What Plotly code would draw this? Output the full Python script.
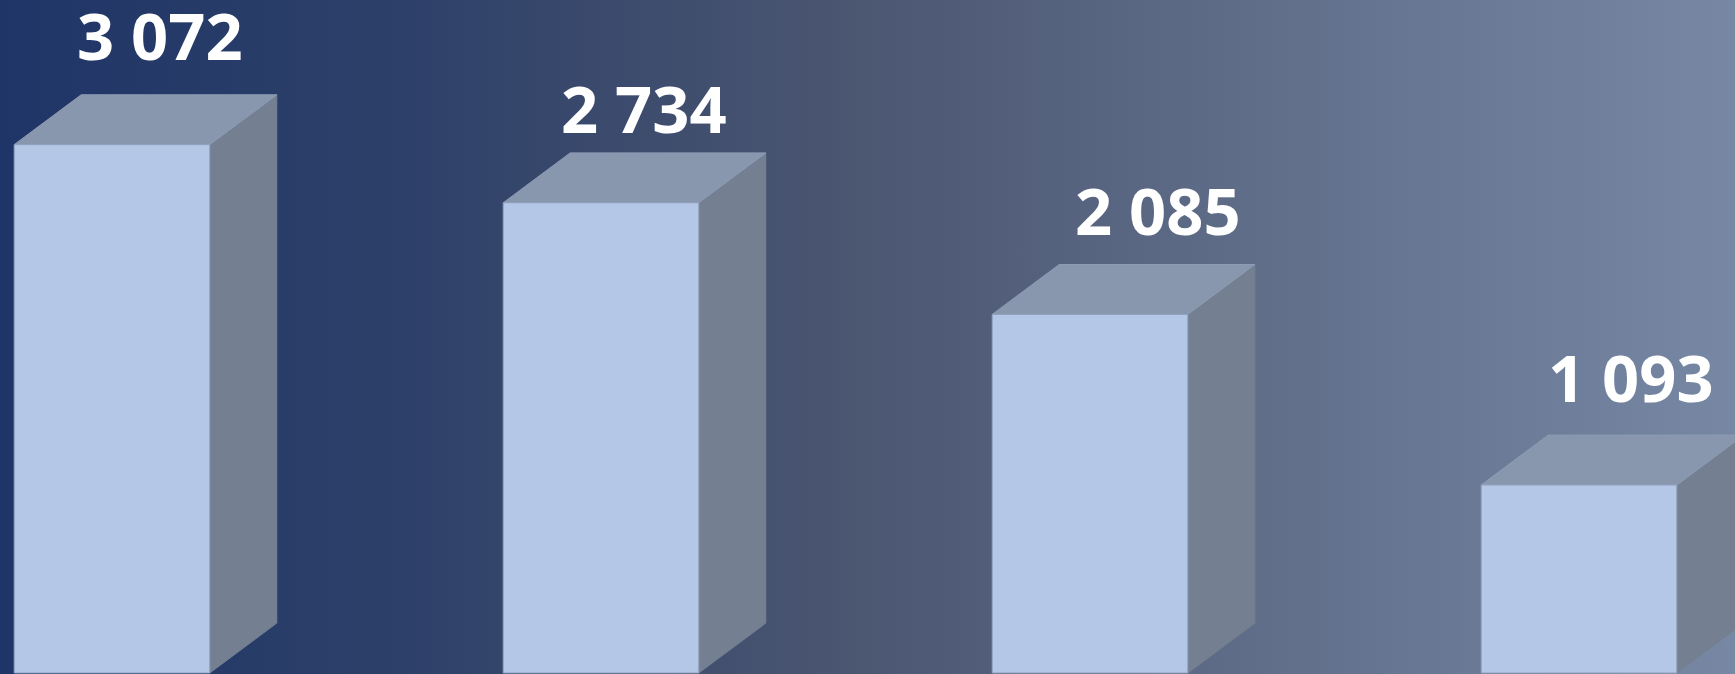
import plotly.graph_objects as go

# ---- data ----
positions = [0, 1, 2, 3]
values = [3072, 2734, 2085, 1093]
labels = [f"{v:,}".replace(",", " ") for v in values]

# ---- style / geometry ----
bar_w = 0.40          # front face width (category units)
depth_x = 0.137       # 3-D depth offset in x (category units)
depth_y = 290         # 3-D depth offset in y (value units)
x_range = [-0.229, 3.319]
y_range = [-5.8, 3913]
label_xshift = [-4, -9, 16, 0]     # px nudges of the value labels
label_yshift = [14, -1, 9, 12]

front_col = "#B4C7E7"
top_col = "#8897AE"
side_col = "#748092"
edge_col = "#8FA0BE"

fig = go.Figure()

# gradient background
fig.add_trace(go.Scatter(
    x=[x_range[0], x_range[1], x_range[1], x_range[0], x_range[0]],
    y=[y_range[0], y_range[0], y_range[1], y_range[1], y_range[0]],
    fill="toself", mode="lines", line=dict(width=0),
    fillgradient=dict(type="horizontal",
                      colorscale=[[0, "#1F3567"], [0.23, "#2D4069"],
                                  [0.49, "#4B5671"], [0.75, "#62708C"],
                                  [1, "#7788A4"]]),
    hoverinfo="skip", showlegend=False))

for p, v in zip(positions, values):
    l, r = p - bar_w / 2, p + bar_w / 2
    # side face
    fig.add_trace(go.Scatter(
        x=[r, r + depth_x, r + depth_x, r, r],
        y=[0, depth_y, v + depth_y, v, 0],
        fill="toself", mode="lines", fillcolor=side_col,
        line=dict(color=side_col, width=1), hoverinfo="skip", showlegend=False))
    # top face
    fig.add_trace(go.Scatter(
        x=[l, r, r + depth_x, l + depth_x, l],
        y=[v, v, v + depth_y, v + depth_y, v],
        fill="toself", mode="lines", fillcolor=top_col,
        line=dict(color="#8E9DB4", width=1), hoverinfo="skip", showlegend=False))
    # front face
    fig.add_trace(go.Scatter(
        x=[l, r, r, l, l],
        y=[0, 0, v, v, 0],
        fill="toself", mode="lines", fillcolor=front_col,
        line=dict(color=edge_col, width=1), hoverinfo="skip", showlegend=False))

for p, v, t, xs, ys in zip(positions, values, labels, label_xshift, label_yshift):
    fig.add_annotation(
        x=p + 0.107, y=v + depth_y, text=t, showarrow=False,
        xanchor="center", yanchor="bottom", xshift=xs, yshift=ys,
        font=dict(family="Open Sans", size=65, color="white", weight="bold"))

fig.update_layout(
    width=1735, height=674,
    margin=dict(l=0, r=0, t=0, b=0),
    paper_bgcolor="#2D4069", plot_bgcolor="rgba(0,0,0,0)",
    showlegend=False,
    xaxis=dict(range=x_range, visible=False, fixedrange=True),
    yaxis=dict(range=y_range, visible=False, fixedrange=True),
)

fig.write_html("out.html",
               config=dict(displayModeBar=False),
               post_script="document.body.style.margin='0';document.body.style.overflow='hidden';")
